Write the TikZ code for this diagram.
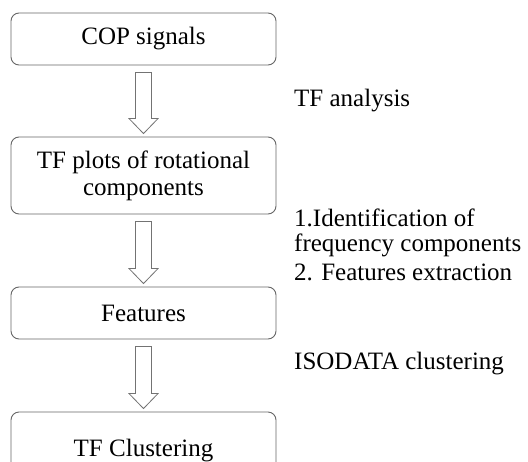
\documentclass[tikz,border=0pt]{standalone}
\usepackage{fontspec}
\setmainfont{Liberation Serif}
\usetikzlibrary{calc}

\tikzset{
  stage/.style={draw=black!60, line width=0.9pt, rounded corners=8pt,
    minimum width=265pt, minimum height=52pt, align=center,
    font=\fontsize{25}{27}\selectfont},
  note/.style={anchor=base west, align=left, inner sep=0pt,
    font=\fontsize{25}{25}\selectfont},
  hollow/.style={draw=black!55, line width=0.8pt, line join=miter, fill=white}
}

% hollow block arrow from one box to the next
\newcommand{\flowarrow}[2]{%
  \draw[hollow] ($(#1.south)+(-8,7)$) -- ($(#2.north)+(-8,-18)$)
    -- ($(#2.north)+(-14.5,-18)$) -- ($(#2.north)+(0,-3)$)
    -- ($(#2.north)+(14.5,-18)$) -- ($(#2.north)+(8,-18)$)
    -- ($(#1.south)+(8,7)$) -- cycle;}

\begin{document}
\begin{tikzpicture}[x=1pt, y=-1pt]
  \useasboundingbox (0,0) rectangle (528,461);
  \clip (0,0) rectangle (528,461);

  \node[stage] (cop) at (143.5,39) {COP signals};
  \node[stage, minimum height=77pt] (plots) at (143.5,175.5) {TF plots of rotational\\components};
  \node[stage] (feat) at (143.5,313) {Features};
  \node[stage, minimum height=77pt] (clust) at (143.5,450.5) {TF Clustering};

  \flowarrow{cop}{plots}
  \flowarrow{plots}{feat}
  \flowarrow{feat}{clust}

  \node[note] (tfa) at (294,106.5) {TF analysis};
  \node[note] (ident) at (294,226.5) {1.Identification of};
  \node[note] (freq) at (294,251.5) {frequency components};
  \node[note] (extr) at (294,280) {2. Features extraction};
  \node[note] (iso) at (294,369) {ISODATA clustering};
\end{tikzpicture}
\end{document}
